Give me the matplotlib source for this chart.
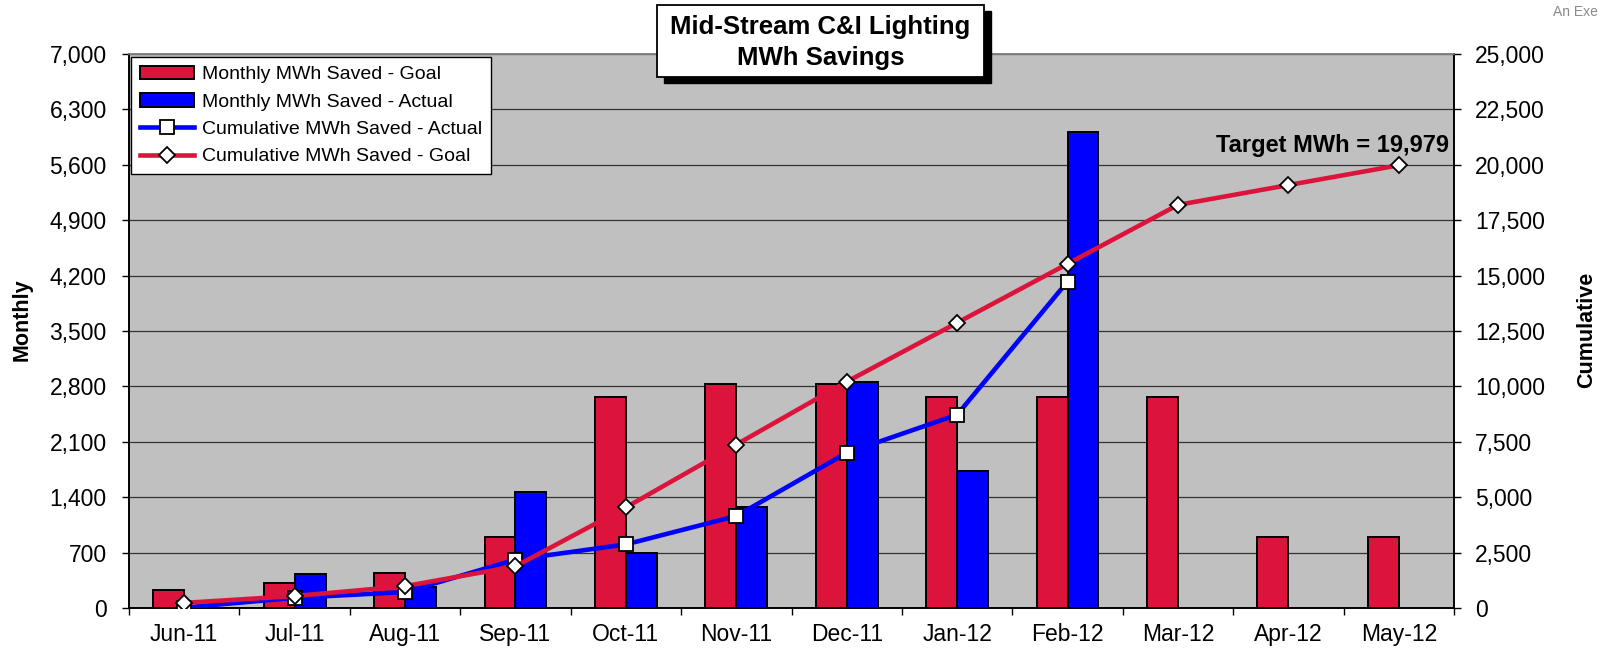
import numpy as np
import matplotlib
matplotlib.use("Agg")
import matplotlib.pyplot as plt
from matplotlib.patches import Rectangle
from matplotlib.ticker import FuncFormatter, FixedLocator

plt.rcParams['font.family'] = ['Liberation Sans', 'DejaVu Sans']

months = ["Jun-11", "Jul-11", "Aug-11", "Sep-11", "Oct-11", "Nov-11",
          "Dec-11", "Jan-12", "Feb-12", "Mar-12", "Apr-12", "May-12"]
monthly_goal = [230, 310, 445, 895, 2660, 2835, 2835, 2660, 2660, 2660, 895, 895]
monthly_actual = [20, 430, 260, 1460, 690, 1280, 2850, 1730, 6010]
cum_actual = [20, 460, 720, 2180, 2870, 4150, 7000, 8720, 14730]
cum_goal = [230, 540, 985, 1880, 4540, 7375, 10210, 12870, 15530, 18190, 19085, 19979]
target_label = "Target MWh = 19,979"
left_ticks = list(range(0, 7001, 700))
right_ticks = list(range(0, 25001, 2500))

RED = "#DC143C"
BLUE = "#0000FF"
GRAY = "#C0C0C0"

fig = plt.figure(figsize=(16.02, 6.51), dpi=100)
ax = fig.add_axes([129/1602, 1-608/651, (1454-129)/1602, (608-54)/651])
ax.set_facecolor(GRAY)
ax2 = ax.twinx()

x = np.arange(len(months))
w = 0.28
ax.bar(x - w/2, monthly_goal, width=w, color=RED, edgecolor="black", linewidth=1.4,
       label="Monthly MWh Saved - Goal", zorder=2)
xa = np.arange(len(monthly_actual))
ax.bar(xa + w/2, monthly_actual, width=w, color=BLUE, edgecolor="black", linewidth=1.4,
       label="Monthly MWh Saved - Actual", zorder=2)

ax.set_xlim(-0.5, len(months) - 0.5)
ax.set_ylim(0, 7000)
ax2.set_ylim(0, 25000)
ax.set_yticks(left_ticks)
ax2.set_yticks(right_ticks)
fmt = FuncFormatter(lambda v, p: f"{int(v):,}")
ax.yaxis.set_major_formatter(fmt)
ax2.yaxis.set_major_formatter(fmt)

ax.grid(axis='y', color="#333333", linewidth=0.9, zorder=1)
ax.set_axisbelow(True)

# x ticks: boundaries as major ticks, labels at centers
ax.xaxis.set_major_locator(FixedLocator(np.arange(-0.5, len(months), 1.0)))
ax.xaxis.set_major_formatter(FuncFormatter(lambda v, p: ""))
ax.xaxis.set_minor_locator(FixedLocator(x))
ax.set_xticklabels(months, minor=True)
ax.tick_params(axis='x', which='major', direction='out', length=5, width=1, color='black')
ax.tick_params(axis='x', which='minor', length=0, pad=11, labelsize=16.5)
ax.tick_params(axis='y', direction='out', length=5, width=1, pad=11, labelsize=16.5)
ax2.tick_params(axis='y', direction='out', length=5, width=1, pad=10, labelsize=16.5)

la, = ax2.plot(xa, cum_actual, color=BLUE, linewidth=3.3, marker='s', markersize=10,
               markerfacecolor='white', markeredgecolor='black', markeredgewidth=1.3,
               label="Cumulative MWh Saved - Actual", zorder=3)
lg, = ax2.plot(x, cum_goal, color=RED, linewidth=3.3, marker='D', markersize=8.5,
               markerfacecolor='white', markeredgecolor='black', markeredgewidth=1.3,
               label="Cumulative MWh Saved - Goal", zorder=4)

ax2.annotate(target_label, xy=(x[-1], cum_goal[-1]), xytext=(36, 14),
             textcoords='offset points', ha='right', va='center',
             fontsize=17, fontweight='bold')

for a in (ax, ax2):
    for s in ('left', 'right', 'bottom'):
        a.spines[s].set_color('black')
        a.spines[s].set_linewidth(1.2)
    a.spines['top'].set_color('#808080')
    a.spines['top'].set_linewidth(1.2)

fig.text(22.5/1602, 1-320/651, "Monthly", rotation=90, ha='center', va='center',
         fontsize=15.5, fontweight='bold')
fig.text(1587/1602, 1-330/651, "Cumulative", rotation=90, ha='center', va='center',
         fontsize=15.5, fontweight='bold')

h1, l1 = ax.get_legend_handles_labels()
handles = h1 + [la, lg]
labels = l1 + [la.get_label(), lg.get_label()]
leg = ax2.legend(handles, labels, loc='upper left',
                 bbox_to_anchor=(131/1602, 1-57/651), bbox_transform=fig.transFigure,
                 fontsize=14, frameon=True, fancybox=False, edgecolor='black',
                 framealpha=1, borderpad=0.45, labelspacing=0.5, handlelength=2.8,
                 handletextpad=0.4, borderaxespad=0)
leg.get_frame().set_linewidth(1.0)
leg.set_zorder(10)

# Title box with shadow
bx0, by0, bw, bh = 657/1602, 1-77/651, 327/1602, 72/651
fig.patches.append(Rectangle((bx0 + 7/1602, by0 - 6/651), bw, bh, transform=fig.transFigure,
                             facecolor='black', edgecolor='black', zorder=5))
fig.patches.append(Rectangle((bx0, by0), bw, bh, transform=fig.transFigure,
                             facecolor='white', edgecolor='black', linewidth=1.3, zorder=6))
fig.text(bx0 + bw/2, 1-27/651, "Mid-Stream C&I Lighting", ha='center', va='center',
         fontsize=18.5, fontweight='bold', zorder=7)
fig.text(bx0 + bw/2, 1-58/651, "MWh Savings", ha='center', va='center',
         fontsize=18.5, fontweight='bold', zorder=7)

fig.text(1553/1602, 1-12/651, "An Exe", ha='left', va='center', fontsize=10, color='#8a8a8a')

fig.savefig("out.png", dpi=100)
